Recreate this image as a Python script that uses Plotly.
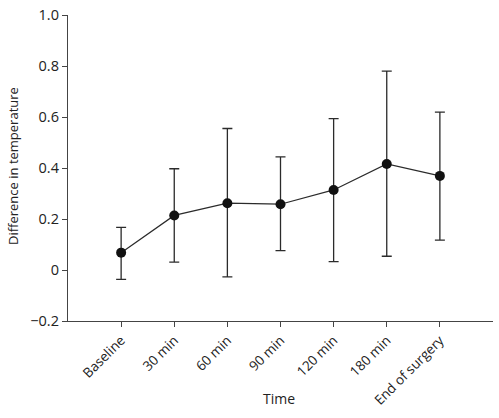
import plotly.graph_objects as go

categories = ["Baseline", "30 min", "60 min", "90 min", "120 min", "180 min", "End of surgery"]
means = [0.068, 0.214, 0.262, 0.258, 0.314, 0.416, 0.369]
upper = [0.167, 0.397, 0.555, 0.444, 0.594, 0.780, 0.619]
lower = [-0.037, 0.031, -0.027, 0.076, 0.033, 0.054, 0.117]
ytick_vals = [-0.2, 0, 0.2, 0.4, 0.6, 0.8, 1.0]
ytick_text = ["\u22120.2", "0", "0.2", "0.4", "0.6", "0.8", "1.0"]

err_plus = [u - m for u, m in zip(upper, means)]
err_minus = [m - l for m, l in zip(means, lower)]
xidx = list(range(len(categories)))

W, H = 499, 418
L, R, T, B = 68, 6, 15, 97
pw, ph = W - L - R, H - T - B

fig = go.Figure()
fig.add_trace(go.Scatter(
    x=xidx, y=means, mode="lines+markers",
    line=dict(color="#2b2b2b", width=1.2),
    marker=dict(color="#111111", size=10),
    error_y=dict(type="data", symmetric=False, array=err_plus, arrayminus=err_minus,
                 color="#2b2b2b", thickness=1.3, width=5),
    showlegend=False,
))

font = "Open Sans, Noto Sans, sans-serif"
fig.update_layout(
    width=W, height=H,
    margin=dict(l=L, r=R, t=T, b=B),
    plot_bgcolor="white", paper_bgcolor="white",
    font=dict(family=font, size=13, color="#222"),
    xaxis=dict(range=[-1, 7], tickvals=xidx, ticktext=categories, tickangle=-45,
               showline=True, linecolor="#444", linewidth=1.3, ticks="outside",
               ticklen=5, tickcolor="#444", showgrid=False, zeroline=False,
               automargin=False, tickfont=dict(size=13.5)),
    yaxis=dict(range=[-0.2, 1.0], tickvals=ytick_vals, ticktext=ytick_text,
               showline=True, linecolor="#444", linewidth=1.3, ticks="outside",
               ticklen=5, tickcolor="#444", showgrid=False, zeroline=False,
               automargin=False, tickfont=dict(size=14.5), ticklabeloverflow="allow"),
    annotations=[
        dict(text="Time", xref="paper", yref="paper",
             x=(279 - L) / pw, y=(H - B - 398) / ph, showarrow=False,
             xanchor="center", yanchor="middle", font=dict(size=14)),
        dict(text="Difference in temperature", xref="paper", yref="paper",
             x=(13 - L) / pw, y=(H - B - 166) / ph, showarrow=False, textangle=-90,
             xanchor="center", yanchor="middle", font=dict(size=13)),
    ],
)
fig.write_html("out.html", config={"displayModeBar": False},
               post_script="document.body.style.margin='0';")
